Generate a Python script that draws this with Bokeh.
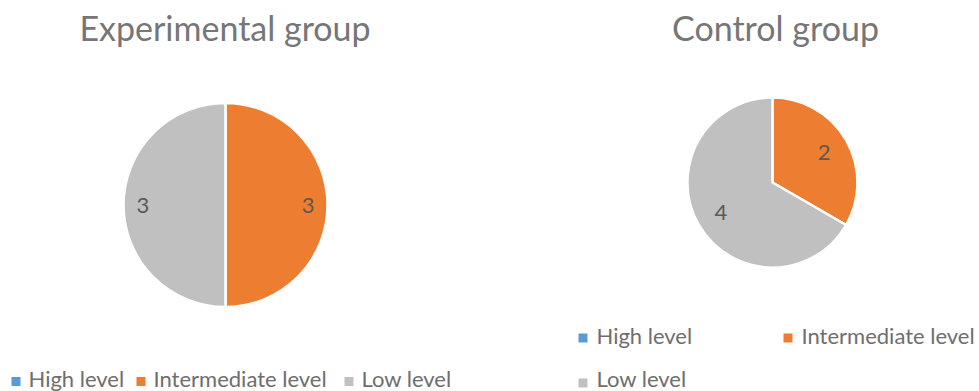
import math
from bokeh.plotting import figure
from bokeh.models import Range1d, ColumnDataSource
from bokeh.core.properties import value
from bokeh.embed import file_html
from bokeh.resources import INLINE

# ---- data ----
categories = ["High level", "Intermediate level", "Low level"]
colors = ["#5B9BD5", "#ED7D31", "#BFC0BF"]
experimental = [0, 3, 3]
control = [0, 2, 4]
titles = ["Experimental group", "Control group"]

W, H = 979, 391
FONT = "Lato"
TITLE_COLOR = "#767676"
LEGEND_COLOR = "#6E6E6E"
LABEL_COLOR = "#595959"

p = figure(width=W, height=H, x_range=Range1d(0, W), y_range=Range1d(0, H),
           output_backend="svg", toolbar_location=None, min_border=0)
p.axis.visible = False
p.grid.visible = False
p.outline_line_color = None
p.background_fill_color = "white"
p.border_fill_color = "white"


def Y(ypx):
    return H - ypx


# pie layout
pies = [
    dict(vals=experimental, title=titles[0], cx=225, cy=204.5, r=102, f=0.81, tx=224.5),
    dict(vals=control, title=titles[1], cx=772, cy=182, r=85, f=0.70, tx=775),
]

for pie in pies:
    vals = pie["vals"]
    total = float(sum(vals))
    starts, ends, cols, lx, ly, lt = [], [], [], [], [], []
    cum = 0.0
    for v, c in zip(vals, colors):
        a0 = cum / total * 2 * math.pi
        cum += v
        a1 = cum / total * 2 * math.pi
        if v <= 0:
            continue
        starts.append(math.pi / 2 - a1)
        ends.append(math.pi / 2 - a0)
        cols.append(c)
        mid = (a0 + a1) / 2
        lx.append(pie["cx"] + pie["f"] * pie["r"] * math.sin(mid))
        ly.append(Y(pie["cy"] - pie["f"] * pie["r"] * math.cos(mid)))
        lt.append(str(v))
    src = ColumnDataSource(dict(s=starts, e=ends, c=cols))
    p.wedge(x=pie["cx"], y=Y(pie["cy"]), radius=pie["r"], start_angle="s", end_angle="e",
            fill_color="c", line_color="white", line_width=2.5, source=src)
    p.text(x=lx, y=ly, text=lt, text_font=value(FONT), text_font_size="22px",
           text_color=LABEL_COLOR, text_align="center", text_baseline="middle")
    p.text(x=[pie["tx"]], y=[Y(27)], text=[pie["title"]], text_font=value(FONT),
           text_font_size="34px", text_color=TITLE_COLOR, text_align="center",
           text_baseline="middle")

# legends: (square left x, square middle y, text left x, text middle y) in px
legend_left = [(11, 381, 28, 377.5), (136, 381, 153, 377.5), (344, 381, 361, 377.5)]
legend_right = [(578, 337.5, 596, 334.5), (783, 337.5, 801, 334.5), (578, 382.5, 596, 377.5)]
for layout in (legend_left, legend_right):
    sq_x = [l[0] + 4.5 for l in layout]
    sq_y = [Y(l[1]) for l in layout]
    p.rect(x=sq_x, y=sq_y, width=9, height=9, fill_color=colors, line_color=None)
    p.text(x=[l[2] for l in layout], y=[Y(l[3]) for l in layout], text=categories,
           text_font=value(FONT), text_font_size="22px", text_color=LEGEND_COLOR,
           text_align="left", text_baseline="middle")

open("out.html", "w").write(file_html(p, INLINE))
